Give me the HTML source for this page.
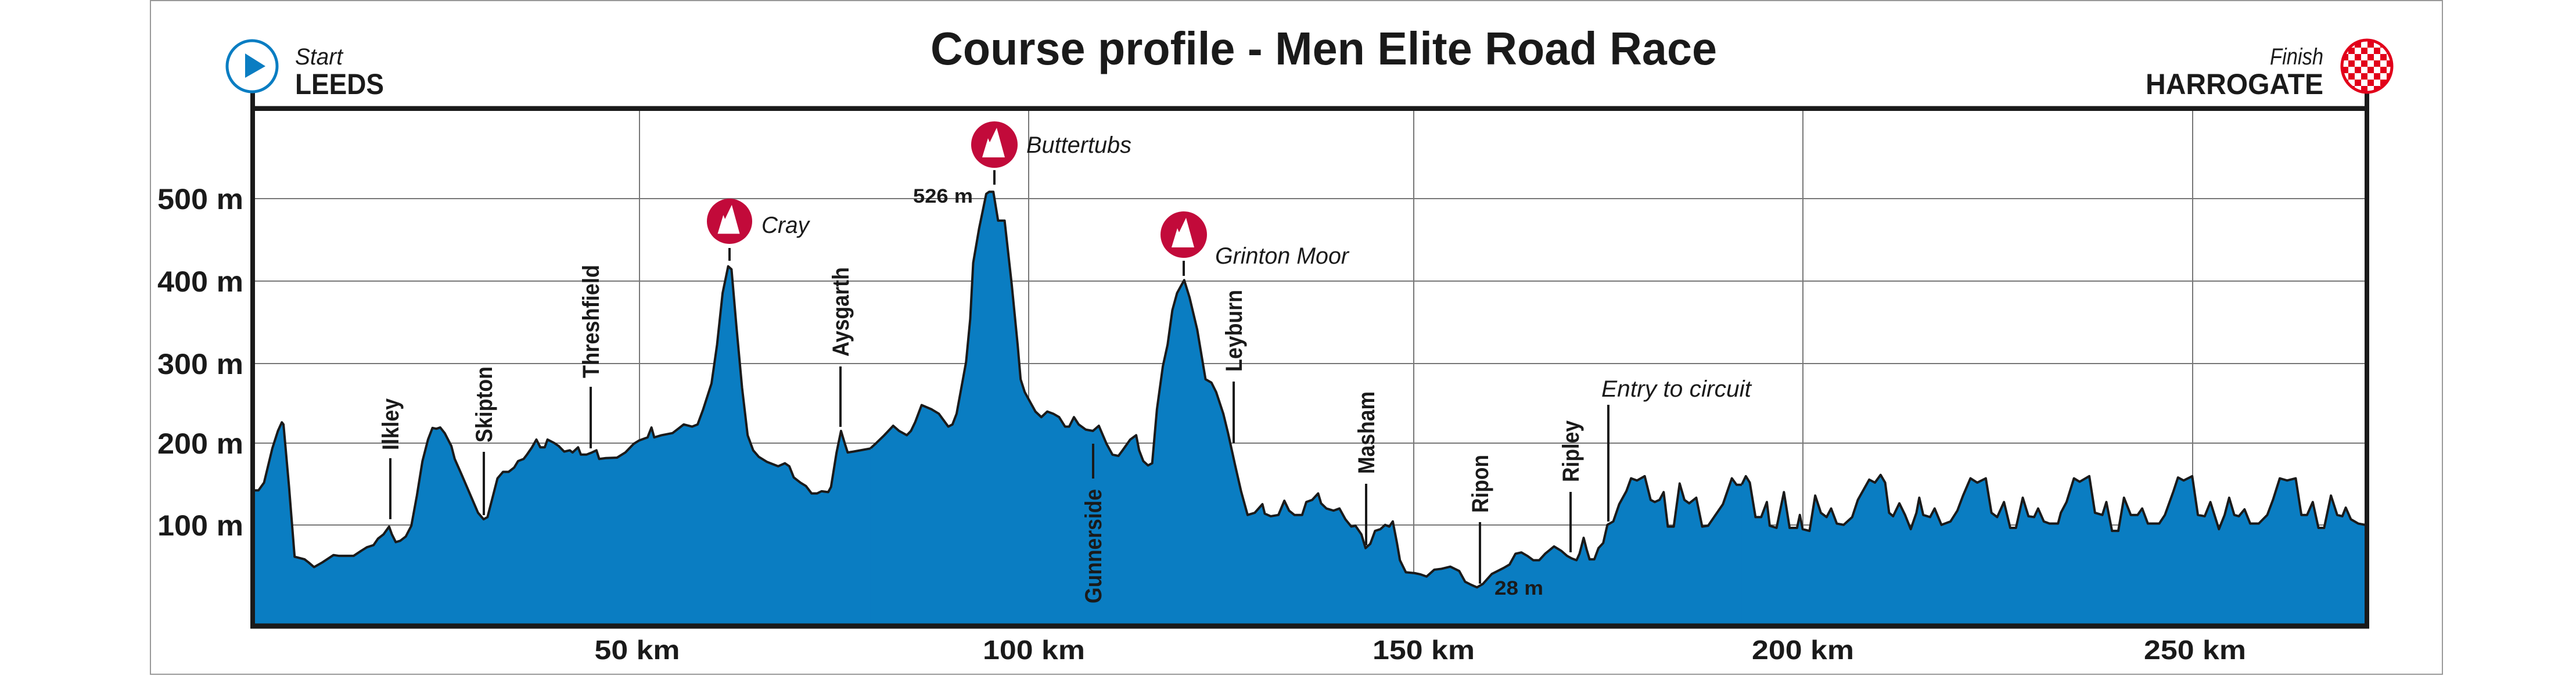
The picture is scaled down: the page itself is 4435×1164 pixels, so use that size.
<!DOCTYPE html>
<html><head><meta charset="utf-8"><style>
html,body{margin:0;padding:0;background:#fff;}
svg{display:block;}
text{font-family:"Liberation Sans",sans-serif;fill:#1a1a1a;}
.b{font-weight:bold;}
.i{font-style:italic;}
</style></head><body>
<svg width="4435" height="1164" viewBox="0 0 4435 1164" xmlns="http://www.w3.org/2000/svg">
<defs>
<symbol id="mt" viewBox="-40 -40 80 80">
<circle cx="0" cy="0" r="40" fill="#c20a3a"/>
<polygon points="-21,22 -11,-11 -8,-4 4,-29 18,22" fill="#fff"/>
</symbol>
<pattern id="chk" x="4043" y="82" width="22" height="22" patternUnits="userSpaceOnUse">
<rect width="22" height="22" fill="#fff"/><rect width="11" height="11" fill="#e2001a"/><rect x="11" y="11" width="11" height="11" fill="#e2001a"/>
</pattern>
</defs>
<rect x="259" y="1" width="3946" height="1160" fill="none" stroke="#999" stroke-width="2"/>
<!-- grid -->
<g stroke="#777" stroke-width="2">
<line x1="435" y1="342" x2="4075" y2="342"/><line x1="435" y1="484" x2="4075" y2="484"/>
<line x1="435" y1="626" x2="4075" y2="626"/><line x1="435" y1="763" x2="4075" y2="763"/>
<line x1="435" y1="904" x2="4075" y2="904"/>
<line x1="1101" y1="190" x2="1101" y2="1078"/><line x1="1771" y1="190" x2="1771" y2="1078"/>
<line x1="2434" y1="190" x2="2434" y2="1078"/><line x1="3104" y1="190" x2="3104" y2="1078"/>
<line x1="3775" y1="190" x2="3775" y2="1078"/>
</g>
<!-- profile -->
<g transform="translate(0,0) scale(0.957,0.742)">
<polygon fill="#0a7dc2" points="455,1452 455,1138 465,1138 475,1120 490,1040 500,1000 507,980 510,985 520,1130 530,1292 548,1298 555,1305 565,1316 580,1305 600,1288 610,1290 636,1290 650,1278 660,1270 672,1265 680,1250 690,1240 700,1222 705,1240 712,1258 720,1255 730,1245 740,1220 750,1150 760,1070 770,1020 778,993 785,995 792,992 800,1005 812,1035 818,1065 830,1100 845,1145 860,1190 870,1205 877,1200 885,1160 895,1110 905,1095 915,1095 925,1085 932,1070 942,1065 948,1055 957,1038 965,1020 972,1038 980,1038 985,1020 997,1028 1005,1035 1015,1048 1025,1045 1030,1050 1040,1038 1045,1055 1055,1055 1065,1050 1073,1045 1078,1065 1090,1063 1110,1062 1125,1050 1140,1030 1150,1022 1165,1015 1172,992 1177,1015 1190,1010 1210,1005 1220,995 1230,985 1245,990 1255,985 1265,950 1280,890 1290,800 1300,680 1310,618 1316,625 1325,760 1335,900 1345,1010 1355,1045 1365,1060 1380,1072 1400,1082 1412,1075 1420,1082 1428,1108 1440,1120 1450,1128 1460,1145 1470,1145 1478,1140 1490,1142 1495,1130 1505,1050 1513,1000 1520,1030 1525,1050 1535,1048 1569,1040 1569,1452"/>
<polyline fill="none" stroke="#1a1a1a" stroke-width="4" vector-effect="non-scaling-stroke" stroke-linejoin="round" points="455,1138 465,1138 475,1120 490,1040 500,1000 507,980 510,985 520,1130 530,1292 548,1298 555,1305 565,1316 580,1305 600,1288 610,1290 636,1290 650,1278 660,1270 672,1265 680,1250 690,1240 700,1222 705,1240 712,1258 720,1255 730,1245 740,1220 750,1150 760,1070 770,1020 778,993 785,995 792,992 800,1005 812,1035 818,1065 830,1100 845,1145 860,1190 870,1205 877,1200 885,1160 895,1110 905,1095 915,1095 925,1085 932,1070 942,1065 948,1055 957,1038 965,1020 972,1038 980,1038 985,1020 997,1028 1005,1035 1015,1048 1025,1045 1030,1050 1040,1038 1045,1055 1055,1055 1065,1050 1073,1045 1078,1065 1090,1063 1110,1062 1125,1050 1140,1030 1150,1022 1165,1015 1172,992 1177,1015 1190,1010 1210,1005 1220,995 1230,985 1245,990 1255,985 1265,950 1280,890 1290,800 1300,680 1310,618 1316,625 1325,760 1335,900 1345,1010 1355,1045 1365,1060 1380,1072 1400,1082 1412,1075 1420,1082 1428,1108 1440,1120 1450,1128 1460,1145 1470,1145 1478,1140 1490,1142 1495,1130 1505,1050 1513,1000 1520,1030 1525,1050 1535,1048 1569,1040"/>
</g>
<g transform="translate(1400,0) scale(1.0204,0.742)">
<polygon fill="#0a7dc2" points="97,1452 97,1040 105,1030 120,1010 135,988 145,1000 158,1010 165,1000 172,980 183,940 200,950 212,960 220,975 228,990 235,985 242,960 250,900 258,840 265,740 270,610 280,530 292,450 297,445 304,445 312,512 323,512 335,660 345,800 350,880 357,910 365,930 375,955 385,968 395,955 405,960 415,968 425,990 432,990 440,968 448,985 460,997 472,1000 482,988 495,1030 505,1055 515,1058 522,1045 535,1020 545,1010 550,1045 557,1070 565,1080 572,1075 580,950 590,850 598,800 606,720 614,680 626,650 635,690 648,765 662,880 672,888 680,910 692,960 700,1005 712,1080 722,1140 733,1195 745,1190 758,1170 762,1192 772,1198 785,1195 795,1162 803,1185 812,1195 825,1195 832,1165 842,1160 852,1145 857,1168 866,1180 878,1185 888,1180 898,1205 908,1222 915,1220 925,1240 932,1272 940,1262 948,1232 957,1228 965,1218 972,1222 978,1210 985,1260 990,1300 1000,1328 1015,1330 1025,1333 1035,1338 1048,1322 1060,1320 1075,1315 1090,1325 1100,1350 1110,1357 1120,1363 1130,1355 1145,1332 1165,1318 1175,1310 1185,1285 1195,1282 1205,1290 1215,1300 1225,1300 1235,1285 1250,1268 1262,1278 1272,1290 1280,1296 1288,1300 1293,1285 1300,1248 1305,1275 1310,1298 1318,1298 1325,1272 1333,1260 1340,1218 1350,1210 1360,1170 1372,1140 1380,1110 1390,1115 1403,1105 1413,1160 1420,1165 1428,1160 1435,1142 1442,1222 1452,1222 1462,1122 1470,1160 1478,1168 1490,1155 1500,1222 1510,1220 1520,1200 1535,1170 1540,1150 1550,1110 1558,1125 1569,1125 1569,1452"/>
<polyline fill="none" stroke="#1a1a1a" stroke-width="4" vector-effect="non-scaling-stroke" stroke-linejoin="round" points="97,1040 105,1030 120,1010 135,988 145,1000 158,1010 165,1000 172,980 183,940 200,950 212,960 220,975 228,990 235,985 242,960 250,900 258,840 265,740 270,610 280,530 292,450 297,445 304,445 312,512 323,512 335,660 345,800 350,880 357,910 365,930 375,955 385,968 395,955 405,960 415,968 425,990 432,990 440,968 448,985 460,997 472,1000 482,988 495,1030 505,1055 515,1058 522,1045 535,1020 545,1010 550,1045 557,1070 565,1080 572,1075 580,950 590,850 598,800 606,720 614,680 626,650 635,690 648,765 662,880 672,888 680,910 692,960 700,1005 712,1080 722,1140 733,1195 745,1190 758,1170 762,1192 772,1198 785,1195 795,1162 803,1185 812,1195 825,1195 832,1165 842,1160 852,1145 857,1168 866,1180 878,1185 888,1180 898,1205 908,1222 915,1220 925,1240 932,1272 940,1262 948,1232 957,1228 965,1218 972,1222 978,1210 985,1260 990,1300 1000,1328 1015,1330 1025,1333 1035,1338 1048,1322 1060,1320 1075,1315 1090,1325 1100,1350 1110,1357 1120,1363 1130,1355 1145,1332 1165,1318 1175,1310 1185,1285 1195,1282 1205,1290 1215,1300 1225,1300 1235,1285 1250,1268 1262,1278 1272,1290 1280,1296 1288,1300 1293,1285 1300,1248 1305,1275 1310,1298 1318,1298 1325,1272 1333,1260 1340,1218 1350,1210 1360,1170 1372,1140 1380,1110 1390,1115 1403,1105 1413,1160 1420,1165 1428,1160 1435,1142 1442,1222 1452,1222 1462,1122 1470,1160 1478,1168 1490,1155 1500,1222 1510,1220 1520,1200 1535,1170 1540,1150 1550,1110 1558,1125 1569,1125"/>
</g>
<g transform="translate(2900,0) scale(0.979,0.742)">
<polygon fill="#0a7dc2" points="101,1452 101,1122 108,1105 115,1120 125,1200 135,1200 145,1165 150,1220 162,1225 175,1142 185,1225 198,1225 203,1195 208,1228 220,1232 230,1150 240,1190 250,1200 258,1180 268,1215 280,1218 295,1200 305,1160 325,1113 335,1120 345,1102 353,1120 360,1190 367,1198 378,1168 388,1195 398,1228 408,1190 413,1155 420,1195 432,1200 440,1180 452,1218 468,1210 480,1185 490,1150 503,1110 515,1120 530,1110 540,1190 550,1200 562,1165 573,1225 583,1225 595,1155 605,1198 615,1200 622,1180 632,1210 642,1215 657,1215 662,1190 672,1165 685,1110 695,1118 712,1105 722,1190 735,1195 742,1165 752,1232 763,1232 773,1155 785,1195 797,1195 805,1180 815,1215 835,1215 845,1195 860,1140 868,1108 878,1115 893,1105 903,1195 915,1198 925,1165 940,1228 950,1195 958,1155 967,1195 975,1198 985,1182 995,1215 1010,1215 1025,1195 1035,1160 1047,1110 1060,1115 1075,1110 1085,1195 1095,1195 1105,1165 1115,1225 1125,1225 1137,1150 1148,1195 1157,1198 1163,1178 1172,1205 1185,1215 1197,1218 1197,1452"/>
<polyline fill="none" stroke="#1a1a1a" stroke-width="4" vector-effect="non-scaling-stroke" stroke-linejoin="round" points="101,1124 108,1105 115,1120 125,1200 135,1200 145,1165 150,1220 162,1225 175,1142 185,1225 198,1225 203,1195 208,1228 220,1232 230,1150 240,1190 250,1200 258,1180 268,1215 280,1218 295,1200 305,1160 325,1113 335,1120 345,1102 353,1120 360,1190 367,1198 378,1168 388,1195 398,1228 408,1190 413,1155 420,1195 432,1200 440,1180 452,1218 468,1210 480,1185 490,1150 503,1110 515,1120 530,1110 540,1190 550,1200 562,1165 573,1225 583,1225 595,1155 605,1198 615,1200 622,1180 632,1210 642,1215 657,1215 662,1190 672,1165 685,1110 695,1118 712,1105 722,1190 735,1195 742,1165 752,1232 763,1232 773,1155 785,1195 797,1195 805,1180 815,1215 835,1215 845,1195 860,1140 868,1108 878,1115 893,1105 903,1195 915,1198 925,1165 940,1228 950,1195 958,1155 967,1195 975,1198 985,1182 995,1215 1010,1215 1025,1195 1035,1160 1047,1110 1060,1115 1075,1110 1085,1195 1095,1195 1105,1165 1115,1225 1125,1225 1137,1150 1148,1195 1157,1198 1163,1178 1172,1205 1185,1215 1197,1218"/>
</g>
<!-- frame -->
<line x1="435" y1="183" x2="4075" y2="183" stroke="#aaa" stroke-width="2"/>
<line x1="431" y1="187" x2="4079" y2="187" stroke="#1a1a1a" stroke-width="8"/>
<line x1="431" y1="1078" x2="4079" y2="1078" stroke="#1a1a1a" stroke-width="9"/>
<line x1="435" y1="158" x2="435" y2="1082" stroke="#1a1a1a" stroke-width="8"/>
<line x1="4075" y1="158" x2="4075" y2="1082" stroke="#1a1a1a" stroke-width="8"/>
<!-- start / finish -->
<ellipse cx="434" cy="114" rx="43" ry="44" fill="#fff" stroke="#0a7dc2" stroke-width="5"/>
<polygon points="422,92 422,134 457,114" fill="#0a7dc2"/>
<text x="508" y="111" class="i" font-size="40" textLength="82" lengthAdjust="spacingAndGlyphs">Start</text>
<text x="508" y="162" class="b" font-size="50" textLength="153" lengthAdjust="spacingAndGlyphs">LEEDS</text>
<ellipse cx="4075" cy="114" rx="43" ry="45" fill="url(#chk)" stroke="#e2001a" stroke-width="5"/>
<text x="4000" y="111" class="i" font-size="40" text-anchor="end" textLength="92" lengthAdjust="spacingAndGlyphs">Finish</text>
<text x="4000" y="162" class="b" font-size="50" text-anchor="end" textLength="306" lengthAdjust="spacingAndGlyphs">HARROGATE</text>
<text x="1602" y="111" class="b" font-size="80" textLength="1354" lengthAdjust="spacingAndGlyphs">Course profile - Men Elite Road Race</text>
<!-- y labels -->
<g class="b" font-size="50">
<text x="419" y="360" text-anchor="end" textLength="148" lengthAdjust="spacingAndGlyphs" class="b">500 m</text>
<text x="419" y="502" text-anchor="end" textLength="148" lengthAdjust="spacingAndGlyphs" class="b">400 m</text>
<text x="419" y="644" text-anchor="end" textLength="148" lengthAdjust="spacingAndGlyphs" class="b">300 m</text>
<text x="419" y="781" text-anchor="end" textLength="148" lengthAdjust="spacingAndGlyphs" class="b">200 m</text>
<text x="419" y="922" text-anchor="end" textLength="148" lengthAdjust="spacingAndGlyphs" class="b">100 m</text>
</g>
<!-- x labels -->
<g font-size="46">
<text x="1097" y="1135" text-anchor="middle" textLength="147" lengthAdjust="spacingAndGlyphs" class="b">50 km</text>
<text x="1780" y="1135" text-anchor="middle" textLength="176" lengthAdjust="spacingAndGlyphs" class="b">100 km</text>
<text x="2451" y="1135" text-anchor="middle" textLength="176" lengthAdjust="spacingAndGlyphs" class="b">150 km</text>
<text x="3104" y="1135" text-anchor="middle" textLength="176" lengthAdjust="spacingAndGlyphs" class="b">200 km</text>
<text x="3779" y="1135" text-anchor="middle" textLength="176" lengthAdjust="spacingAndGlyphs" class="b">250 km</text>
</g>
<!-- climbs -->
<use href="#mt" x="1216" y="342" width="80" height="78"/>
<line x1="1256" y1="427" x2="1256" y2="449" stroke="#1a1a1a" stroke-width="4"/>
<text x="1311" y="401" class="i" font-size="40" textLength="82" lengthAdjust="spacingAndGlyphs">Cray</text>
<use href="#mt" x="1672" y="209" width="80" height="80"/>
<line x1="1712" y1="293" x2="1712" y2="318" stroke="#1a1a1a" stroke-width="4"/>
<text x="1767" y="263" class="i" font-size="40" textLength="181" lengthAdjust="spacingAndGlyphs">Buttertubs</text>
<text x="1675" y="349" class="b" font-size="34" text-anchor="end" textLength="103" lengthAdjust="spacingAndGlyphs">526 m</text>
<use href="#mt" x="1998" y="364" width="80" height="80"/>
<line x1="2038" y1="449" x2="2038" y2="475" stroke="#1a1a1a" stroke-width="4"/>
<text x="2092" y="454" class="i" font-size="40" textLength="230" lengthAdjust="spacingAndGlyphs">Grinton Moor</text>
<text x="2573" y="1024" class="b" font-size="34" textLength="84" lengthAdjust="spacingAndGlyphs">28 m</text>
<!-- place markers -->
<g stroke="#1a1a1a" stroke-width="4">
<line x1="672" y1="789" x2="672" y2="894"/>
<line x1="833" y1="778" x2="833" y2="887"/>
<line x1="1017" y1="666" x2="1017" y2="772"/>
<line x1="1447" y1="631" x2="1447" y2="735"/>
<line x1="1882" y1="764" x2="1882" y2="824"/>
<line x1="2124" y1="657" x2="2124" y2="763"/>
<line x1="2352" y1="833" x2="2352" y2="939"/>
<line x1="2548" y1="899" x2="2548" y2="1005"/>
<line x1="2704" y1="847" x2="2704" y2="951"/>
<line x1="2769" y1="697" x2="2769" y2="898"/>
</g>
<g font-size="40" font-weight="bold">
<text transform="translate(686,775) rotate(-90)" textLength="89" lengthAdjust="spacingAndGlyphs">Ilkley</text>
<text transform="translate(847,762) rotate(-90)" textLength="131" lengthAdjust="spacingAndGlyphs">Skipton</text>
<text transform="translate(1031,651) rotate(-90)" textLength="195" lengthAdjust="spacingAndGlyphs">Threshfield</text>
<text transform="translate(1461,614) rotate(-90)" textLength="154" lengthAdjust="spacingAndGlyphs">Aysgarth</text>
<text transform="translate(1896,1039) rotate(-90)" textLength="197" lengthAdjust="spacingAndGlyphs">Gunnerside</text>
<text transform="translate(2138,640) rotate(-90)" textLength="141" lengthAdjust="spacingAndGlyphs">Leyburn</text>
<text transform="translate(2366,816) rotate(-90)" textLength="142" lengthAdjust="spacingAndGlyphs">Masham</text>
<text transform="translate(2562,883) rotate(-90)" textLength="100" lengthAdjust="spacingAndGlyphs">Ripon</text>
<text transform="translate(2718,830) rotate(-90)" textLength="106" lengthAdjust="spacingAndGlyphs">Ripley</text>
</g>
<text x="2757" y="683" class="i" font-size="40" textLength="258" lengthAdjust="spacingAndGlyphs">Entry to circuit</text>
</svg>
</body></html>
